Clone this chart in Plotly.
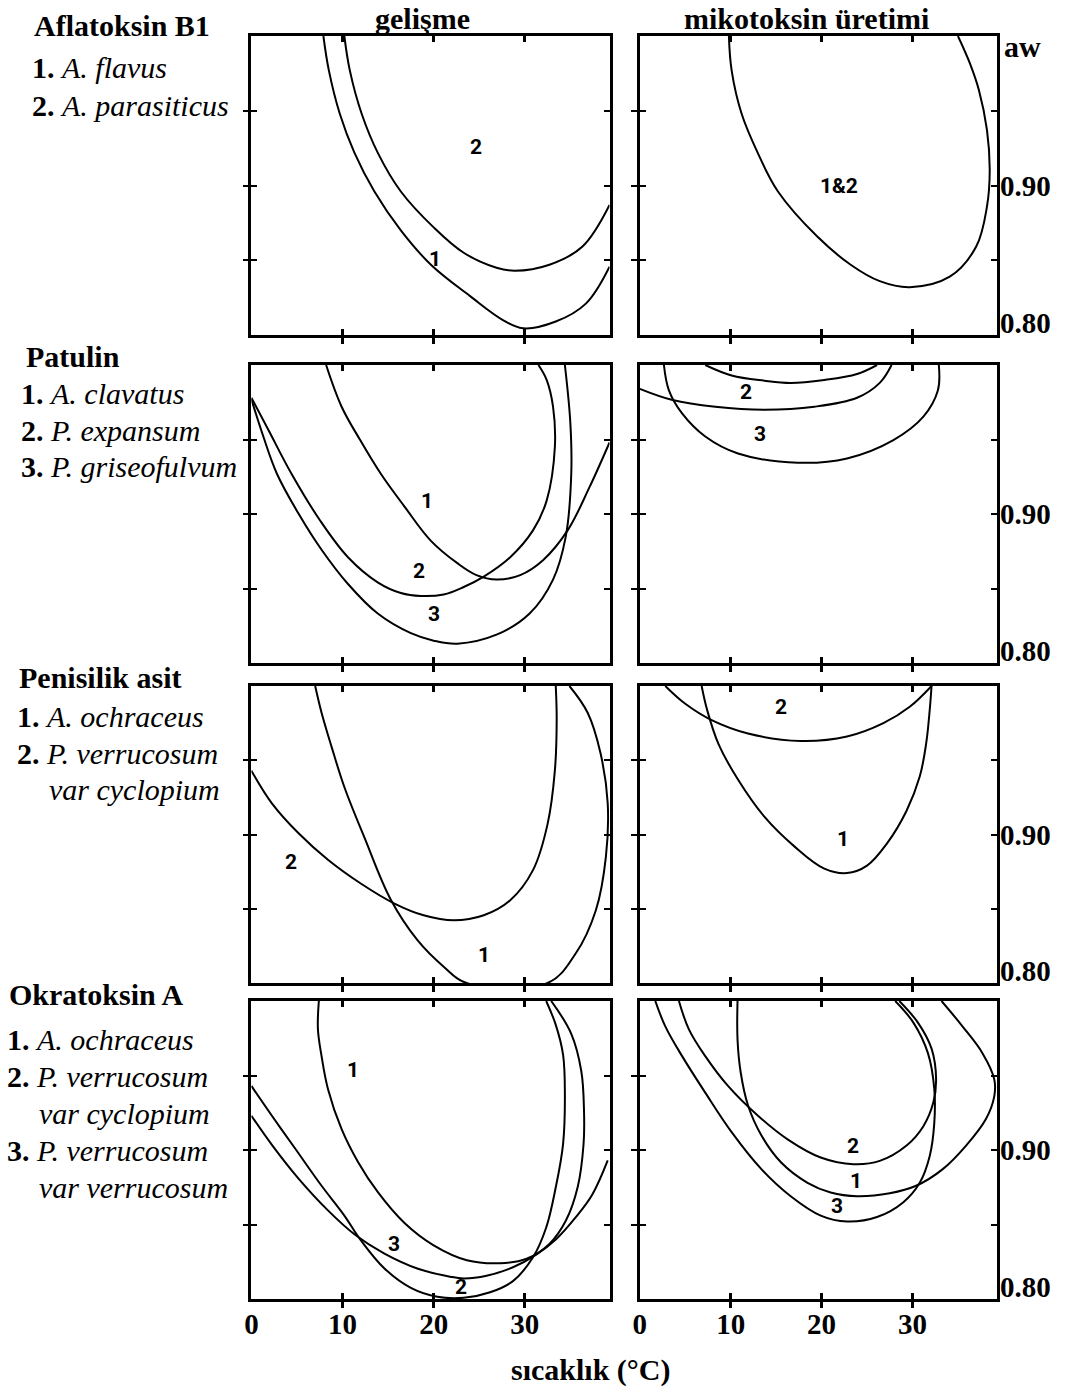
import plotly.graph_objects as go

# ---------------- data (temperature °C, water activity aw) ----------------
AFB_G1_T = [7.9, 8.5, 9.7, 11.3, 13.5, 16.4, 19.7, 24.0, 27.6, 29.8, 33.4, 36.7, 39.3]
AFB_G1_AW = [1.00, 0.977, 0.948, 0.922, 0.896, 0.870, 0.847, 0.826, 0.810, 0.8045, 0.809, 0.821, 0.8457]
AFB_G2_T = [10.2, 10.8, 12.1, 13.9, 16.4, 20.0, 23.3, 26.9, 28.9, 32.7, 36.3, 39.3]
AFB_G2_AW = [1.00, 0.977, 0.948, 0.9215, 0.896, 0.872, 0.855, 0.845, 0.843, 0.847, 0.859, 0.887]
AFB_P_T = [9.8, 10.1, 11.2, 13.0, 15.2, 19.5, 23.2, 26.4, 29.7, 34.1, 37.0, 38.2, 38.5, 38.2, 37.3, 36.3, 35.0]
AFB_P_AW = [1.00, 0.977, 0.948, 0.9215, 0.896, 0.866, 0.847, 0.836, 0.832, 0.839, 0.859, 0.886, 0.910, 0.937, 0.964, 0.982, 1.00]

PAT_G1_T = [8.2, 9.9, 11.9, 14.2, 16.8, 19.7, 22.6, 24.7, 26.9, 29.5, 32.0, 34.7, 37.1, 39.3]
PAT_G1_AW = [1.00, 0.972, 0.950, 0.927, 0.905, 0.882, 0.867, 0.859, 0.856, 0.859, 0.869, 0.889, 0.918, 0.948]
PAT_G2_T = [0.0, 1.9, 4.4, 7.5, 10.6, 13.9, 16.4, 18.6, 21.1, 23.3, 25.5, 28.4, 30.9, 32.4, 33.3, 33.1, 32.4, 31.5]
PAT_G2_AW = [0.978, 0.956, 0.927, 0.896, 0.871, 0.854, 0.847, 0.845, 0.846, 0.851, 0.858, 0.871, 0.889, 0.909, 0.945, 0.972, 0.990, 1.00]
PAT_G3_T = [0.0, 1.2, 2.8, 5.2, 7.7, 10.6, 13.9, 17.5, 20.0, 22.6, 26.9, 30.5, 33.1, 34.5, 35.1, 35.0, 34.4]
PAT_G3_AW = [0.977, 0.954, 0.927, 0.900, 0.876, 0.853, 0.833, 0.820, 0.815, 0.813, 0.819, 0.833, 0.856, 0.885, 0.927, 0.961, 1.00]
PAT_P1_T = [7.2, 10.1, 13.7, 16.6, 20.3, 23.9, 26.1]
PAT_P1_AW = [1.00, 0.993, 0.9895, 0.988, 0.990, 0.994, 1.00]
PAT_P2_T = [0.0, 3.6, 8.3, 13.7, 19.2, 23.9, 26.4, 27.7]
PAT_P2_AW = [0.984, 0.9765, 0.972, 0.970, 0.972, 0.978, 0.988, 1.00]
PAT_P3_T = [2.65, 3.2, 4.65, 7.2, 10.8, 17.4, 22.8, 27.9, 31.2, 32.8, 32.9]
PAT_P3_AW = [1.00, 0.983, 0.9675, 0.952, 0.9406, 0.9344, 0.9373, 0.9496, 0.9653, 0.983, 1.00]

PEN_G1_T = [7.0, 7.7, 8.8, 10.2, 12.4, 15.3, 18.2, 21.1, 23.6, 32.5, 35.6, 37.8, 38.9, 39.1, 38.3, 36.9, 34.9]
PEN_G1_AW = [1.00, 0.982, 0.959, 0.932, 0.898, 0.856, 0.829, 0.811, 0.80, 0.80, 0.820, 0.849, 0.885, 0.921, 0.955, 0.982, 1.00]
PEN_G2_T = [0.0, 2.25, 5.15, 8.4, 12.0, 15.7, 18.9, 22.2, 25.5, 28.4, 30.9, 32.5, 33.3, 33.5, 33.4]
PEN_G2_AW = [0.943, 0.921, 0.901, 0.883, 0.867, 0.8535, 0.8456, 0.8422, 0.8456, 0.8557, 0.876, 0.907, 0.943, 0.977, 1.00]
PEN_P1_T = [6.8, 7.4, 8.65, 10.8, 13.7, 17.0, 20.3, 22.8, 25.0, 27.2, 29.35, 30.8, 31.5, 31.9, 32.1]
PEN_P1_AW = [1.00, 0.984, 0.961, 0.937, 0.912, 0.892, 0.877, 0.874, 0.879, 0.894, 0.916, 0.939, 0.961, 0.984, 1.00]
PEN_P2_T = [2.8, 5.0, 7.9, 11.9, 17.7, 22.8, 26.8, 29.7, 32.1]
PEN_P2_AW = [1.00, 0.988, 0.977, 0.968, 0.963, 0.966, 0.975, 0.986, 1.00]

OTA_G1_T = [7.4, 7.3, 7.7, 8.4, 9.9, 11.7, 13.9, 16.8, 20.0, 23.65, 27.3, 30.2, 32.7, 34.5, 35.8, 36.45, 36.5, 36.2, 35.1, 32.9]
OTA_G1_AW = [1.00, 0.981, 0.963, 0.941, 0.914, 0.892, 0.8715, 0.851, 0.836, 0.826, 0.824, 0.827, 0.837, 0.8525, 0.875, 0.904, 0.926, 0.953, 0.978, 1.00]
OTA_G2_T = [0.0, 2.25, 4.8, 7.7, 10.2, 12.0, 14.6, 17.5, 20.4, 23.3, 26.2, 28.7, 30.9, 32.35, 33.4, 34.2, 34.4, 34.2, 33.4, 32.35]
OTA_G2_AW = [0.943, 0.923, 0.901, 0.876, 0.856, 0.8395, 0.8205, 0.8075, 0.8015, 0.8008, 0.8045, 0.812, 0.828, 0.848, 0.875, 0.904, 0.937, 0.964, 0.984, 1.00]
OTA_G3_T = [0.0, 2.25, 5.15, 8.4, 11.3, 14.6, 18.2, 21.8, 23.3, 25.8, 28.7, 31.3, 33.4, 35.6, 37.4, 39.1]
OTA_G3_AW = [0.923, 0.9035, 0.881, 0.8595, 0.8435, 0.8305, 0.8205, 0.815, 0.8138, 0.8156, 0.8213, 0.830, 0.840, 0.855, 0.870, 0.893]
OTA_P1_T = [10.75, 10.75, 11.1, 11.9, 13.4, 15.55, 18.45, 21.0, 23.9, 27.5, 30.4, 33.3, 35.9, 38.1, 39.0, 39.0, 37.7, 35.5, 33.2]
OTA_P1_AW = [1.00, 0.974, 0.952, 0.930, 0.9095, 0.8916, 0.878, 0.8715, 0.869, 0.871, 0.876, 0.887, 0.903, 0.921, 0.936, 0.9475, 0.965, 0.983, 1.00]
OTA_P2_T = [4.3, 5.4, 7.2, 9.7, 13.0, 16.3, 19.9, 23.5, 26.4, 29.35, 31.2, 32.3, 32.6, 32.1, 30.6, 28.55]
OTA_P2_AW = [1.00, 0.981, 0.963, 0.943, 0.923, 0.907, 0.895, 0.8905, 0.8927, 0.903, 0.916, 0.932, 0.9475, 0.968, 0.9855, 1.00]
OTA_P3_T = [1.7, 2.8, 4.65, 7.2, 10.1, 13.4, 16.6, 19.9, 22.8, 26.1, 29.0, 30.8, 31.9, 32.4, 32.4, 31.7, 30.1, 28.1]
OTA_P3_AW = [1.00, 0.983, 0.963, 0.9385, 0.912, 0.887, 0.869, 0.856, 0.852, 0.855, 0.865, 0.878, 0.896, 0.918, 0.941, 0.965, 0.9855, 1.00]

X_TICKS = [10, 20, 30]
X_TICK_LABELS = ["0", "10", "20", "30"]
Y_TICKS = [0.85, 0.90, 0.95]
COL_TITLES = ["gelişme", "mikotoksin üretimi"]

# panels: list of curves (T, aw) and curve labels (text, T, aw)
PANELS = [
    ([(AFB_G1_T, AFB_G1_AW), (AFB_G2_T, AFB_G2_AW)], [("2", 24.7, 0.926), ("1", 20.1, 0.851)]),
    ([(AFB_P_T, AFB_P_AW)], [("1&2", 21.9, 0.900)]),
    ([(PAT_G1_T, PAT_G1_AW), (PAT_G2_T, PAT_G2_AW), (PAT_G3_T, PAT_G3_AW)],
     [("1", 19.3, 0.909), ("2", 18.4, 0.862), ("3", 20.0, 0.833)]),
    ([(PAT_P1_T, PAT_P1_AW), (PAT_P2_T, PAT_P2_AW), (PAT_P3_T, PAT_P3_AW)],
     [("1", 16.1, 1.0095), ("2", 11.7, 0.982), ("3", 13.2, 0.954)]),
    ([(PEN_G1_T, PEN_G1_AW), (PEN_G2_T, PEN_G2_AW)], [("2", 4.4, 0.8816), ("1", 25.5, 0.8187)]),
    ([(PEN_P1_T, PEN_P1_AW), (PEN_P2_T, PEN_P2_AW)], [("2", 15.5, 0.986), ("1", 22.4, 0.897)]),
    ([(OTA_G1_T, OTA_G1_AW), (OTA_G2_T, OTA_G2_AW), (OTA_G3_T, OTA_G3_AW)],
     [("1", 11.1, 0.954), ("3", 15.7, 0.8369), ("2", 23.0, 0.8078)]),
    ([(OTA_P1_T, OTA_P1_AW), (OTA_P2_T, OTA_P2_AW), (OTA_P3_T, OTA_P3_AW)],
     [("2", 23.5, 0.9028), ("1", 23.8, 0.8793), ("3", 21.65, 0.8626)]),
]

# ---------------- layout ----------------
W, H = 1071, 1392
XR = [0, 39.3]
YR = [0.80, 1.00]
COL_PX = [(246, 606.5), (637, 996.5)]
ROW_PX = [(36, 335), (365, 663), (686, 983), (1001, 1299)]
SERIF = "Liberation Serif, Times New Roman, serif"
SANS = "Liberation Sans Narrow, Roboto, Open Sans, sans-serif"
BIG = 30
TICKF = 29


def px(x, y):
    return x / W, 1 - y / H


fig = go.Figure()
layout = dict(width=W, height=H, margin=dict(l=0, r=0, t=0, b=0),
              paper_bgcolor="white", plot_bgcolor="white", showlegend=False)
annotations = []

for k, (curves, labels) in enumerate(PANELS):
    r, c = divmod(k, 2)
    i = k + 1
    j = k + 9
    xd = [COL_PX[c][0] / W, COL_PX[c][1] / W]
    yd = [1 - ROW_PX[r][1] / H, 1 - ROW_PX[r][0] / H]
    common_x = dict(domain=xd, range=XR, showgrid=False, zeroline=False, fixedrange=True)
    common_y = dict(domain=yd, range=YR, showgrid=False, zeroline=False, fixedrange=True)
    layout[f"xaxis{i}"] = dict(common_x, anchor=f"y{i}", showline=True, linewidth=2.6,
                               linecolor="black", mirror=True, ticks="outside", ticklen=6,
                               tickwidth=2.6, tickcolor="black", tickmode="array",
                               tickvals=X_TICKS, showticklabels=False)
    layout[f"yaxis{i}"] = dict(common_y, anchor=f"x{i}", showline=True, linewidth=2.6,
                               linecolor="black", mirror=True, ticks="outside", ticklen=6,
                               tickwidth=1.5, tickcolor="black", tickmode="array",
                               tickvals=Y_TICKS, showticklabels=False)
    show_lab = r == 3
    layout[f"xaxis{j}"] = dict(common_x, overlaying=f"x{i}", anchor=f"y{j}", side="bottom",
                               showline=False, mirror="ticks", ticks="inside", ticklen=6,
                               tickwidth=2.6, tickcolor="black", tickmode="array",
                               tickvals=[0] + X_TICKS, ticktext=X_TICK_LABELS,
                               showticklabels=show_lab, ticklabelstandoff=5,
                               tickfont=dict(family=SERIF, size=TICKF, color="black",
                                             weight="bold"))
    layout[f"yaxis{j}"] = dict(common_y, overlaying=f"y{i}", anchor=f"x{j}", showline=False,
                               mirror="ticks", ticks="inside", ticklen=6, tickwidth=1.5,
                               tickcolor="black", tickmode="array", tickvals=Y_TICKS,
                               showticklabels=False)
    fig.add_trace(go.Scatter(x=[], y=[], xaxis=f"x{j}", yaxis=f"y{j}", hoverinfo="skip"))
    for t, aw in curves:
        fig.add_trace(go.Scatter(x=t, y=aw, mode="lines", xaxis=f"x{i}", yaxis=f"y{i}",
                                 line=dict(color="black", width=2, shape="spline",
                                           smoothing=1.05),
                                 hoverinfo="skip"))
    for txt, lx, ly in labels:
        annotations.append(dict(text=f"<b>{txt}</b>", x=lx, y=ly, xref=f"x{i}", yref=f"y{i}",
                                xanchor="center", yanchor="middle", showarrow=False,
                                font=dict(family=SANS, size=21, color="black")))
    if c == 1:
        annotations.append(dict(text="<b>0.90</b>", x=1, y=0.90, xref=f"x{i} domain",
                                yref=f"y{i}", xanchor="left", yanchor="middle", xshift=1,
                                showarrow=False, font=dict(family=SERIF, size=TICKF, color="black")))
        annotations.append(dict(text="<b>0.80</b>", x=1, y=0.80, xref=f"x{i} domain",
                                yref=f"y{i}", xanchor="left", yanchor="bottom", xshift=1,
                                yshift=-6, showarrow=False,
                                font=dict(family=SERIF, size=TICKF, color="black")))

# column titles (anchored to the top edge of the page)
TITLE_CX = [418, 805]
for c, title in enumerate(COL_TITLES):
    x, _ = px(TITLE_CX[c], 0)
    annotations.append(dict(text=f"<b>{title}</b>", x=x, y=1, xref="paper", yref="paper",
                            xanchor="center", yanchor="top", showarrow=False, yshift=0,
                            font=dict(family=SERIF, size=30, color="black")))

# aw label
x, y = px(1002, 46)
annotations.append(dict(text="<b>aw</b>", x=x, y=y, xref="paper", yref="paper", xanchor="left",
                        yanchor="middle", showarrow=False,
                        font=dict(family=SERIF, size=BIG, color="black")))

# x axis title
x, y = px(588, 1370)
annotations.append(dict(text="<b>sıcaklık (°C)</b>", x=x, y=y, xref="paper", yref="paper",
                        xanchor="center", yanchor="middle", showarrow=False,
                        font=dict(family=SERIF, size=BIG, color="black")))

# left-hand legends
LEFT_TEXT = [
    ("<b>Aflatoksin B1</b>", 25, 26),
    ("<b>1.</b> <i>A. flavus</i>", 23, 68),
    ("<b>2.</b> <i>A. parasiticus</i>", 23, 105),
    ("<b>Patulin</b>", 17, 356),
    ("<b>1.</b> <i>A. clavatus</i>", 12, 393),
    ("<b>2.</b> <i>P. expansum</i>", 12, 430),
    ("<b>3.</b> <i>P. griseofulvum</i>", 12, 466),
    ("<b>Penisilik asit</b>", 10, 678),
    ("<b>1.</b> <i>A. ochraceus</i>", 8, 716),
    ("<b>2.</b> <i>P. verrucosum</i>", 8, 753),
    ("<i>var cyclopium</i>", 40, 789),
    ("<b>Okratoksin A</b>", 0, 994),
    ("<b>1.</b> <i>A. ochraceus</i>", -2, 1039),
    ("<b>2.</b> <i>P. verrucosum</i>", -2, 1076),
    ("<i>var cyclopium</i>", 30, 1113),
    ("<b>3.</b> <i>P. verrucosum</i>", -2, 1150),
    ("<i>var verrucosum</i>", 30, 1187),
]
for txt, lx, ly in LEFT_TEXT:
    x, y = px(lx, ly)
    annotations.append(dict(text=txt, x=x, y=y, xref="paper", yref="paper", xanchor="left",
                            yanchor="middle", showarrow=False,
                            font=dict(family=SERIF, size=BIG, color="black")))

layout["annotations"] = annotations
fig.update_layout(**layout)
fig.write_html("out.html", config={"displayModeBar": False},
               post_script="document.body.style.margin='0';document.body.style.overflow='hidden';")
